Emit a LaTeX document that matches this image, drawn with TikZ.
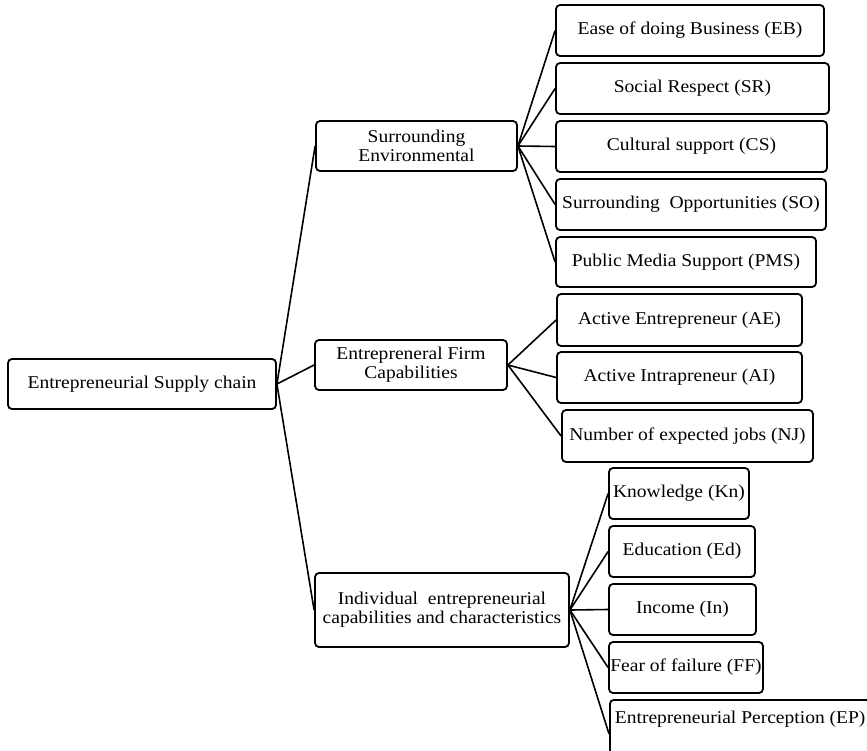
\documentclass[tikz,border=0pt]{standalone}
\usepackage{fontspec}
\setmainfont[FakeStretch=1.085]{Liberation Serif}
\begin{document}
\begin{tikzpicture}[x=1pt,y=-1pt,
  box/.style={draw, line width=1.8pt, rounded corners=4pt, align=center,
    font=\fontsize{18}{19}\selectfont, inner xsep=1pt, inner ysep=2pt, fill=white},
  link/.style={line width=1.6pt}]
\fill[white] (0,0) rectangle (867,750);
\useasboundingbox (0,0) rectangle (867,750);
\node[box, minimum width=268pt, minimum height=50pt] (root) at (142,384) {Entrepreneurial Supply chain};
\node[box, minimum width=201pt, minimum height=50pt] (se) at (416.5,146) {Surrounding\\Environmental};
\node[box, minimum width=192pt, minimum height=50pt] (fc) at (411,365) {Entrepreneral Firm\\Capabilities};
\node[box, minimum width=254pt, minimum height=74pt] (ic) at (442,610) {Individual\ \ entrepreneurial\\capabilities and characteristics};
\node[box, minimum width=268pt, minimum height=51pt] (eb) at (690,30.5) {Ease of doing Business (EB)};
\node[box, minimum width=273pt, minimum height=51pt] (sr) at (692.5,88.5) {Social Respect (SR)};
\node[box, minimum width=271pt, minimum height=51pt] (cs) at (691.5,146.5) {Cultural support (CS)};
\node[box, minimum width=270pt, minimum height=51pt] (so) at (691,204.5) {Surrounding\ \ Opportunities (SO)};
\node[box, minimum width=260pt, minimum height=50pt] (pms) at (686,262) {Public Media Support (PMS)};
\node[box, minimum width=245pt, minimum height=52pt] (ae) at (679.5,320) {Active Entrepreneur (AE)};
\node[box, minimum width=245pt, minimum height=51pt] (ai) at (679.5,377.5) {Active Intrapreneur (AI)};
\node[box, minimum width=251pt, minimum height=52pt] (nj) at (687.5,436) {Number of expected jobs (NJ)};
\node[box, minimum width=140pt, minimum height=51pt] (kn) at (679,493.5) {Knowledge (Kn)};
\node[box, minimum width=146pt, minimum height=51pt] (ed) at (682,551.5) {Education (Ed)};
\node[box, minimum width=147pt, minimum height=51pt] (in) at (682.5,609.5) {Income (In)};
\node[box, minimum width=154pt, minimum height=51pt] (ff) at (686,667.5) {Fear of failure (FF)};
\node[box, anchor=north west, inner xsep=5pt, inner ysep=7pt, text height=17pt, text depth=37pt] (ep) at (609,699) {Entrepreneurial Perception (EP)};
\foreach \c in {se,fc,ic} \draw[link] (root.east) -- (\c.west);
\foreach \c in {eb,sr,cs,so,pms} \draw[link] (se.east) -- (\c.west);
\foreach \c in {ae,ai,nj} \draw[link] (fc.east) -- (\c.west);
\foreach \c in {kn,ed,in,ff,ep} \draw[link] (ic.east) -- (\c.west);
\end{tikzpicture}
\end{document}
